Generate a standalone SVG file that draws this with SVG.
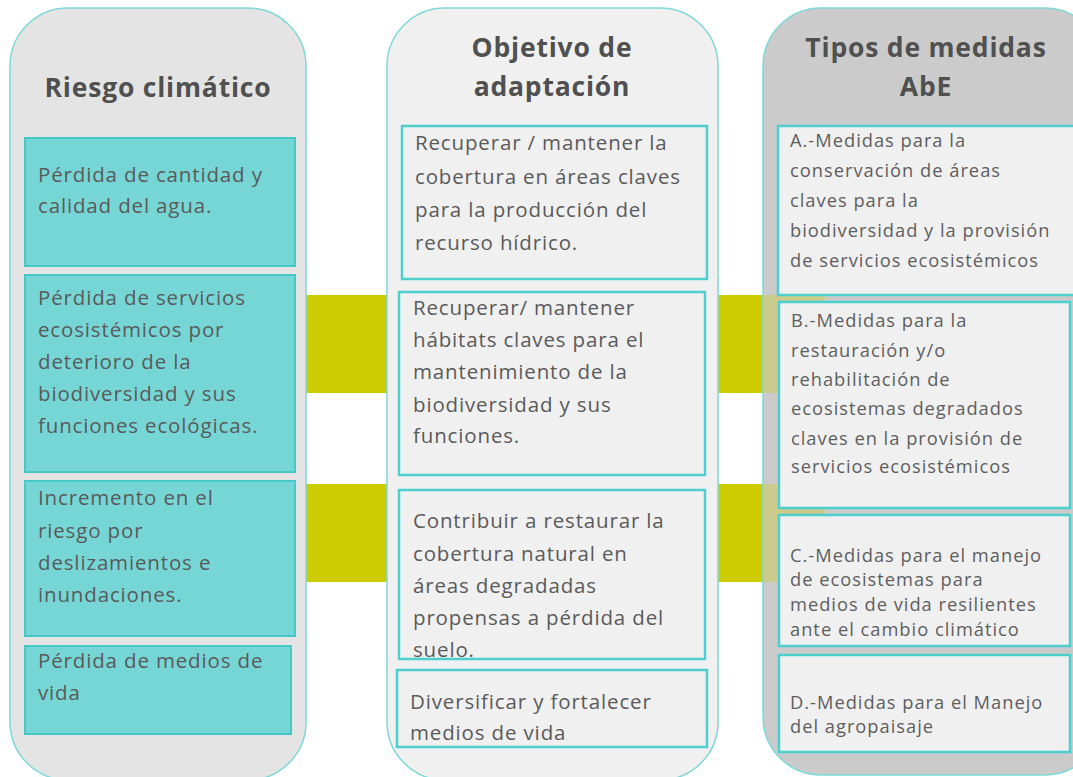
<svg xmlns="http://www.w3.org/2000/svg" width="1073" height="777" viewBox="0 0 1073 777">
<style>
.col{stroke:#7ed8d8;stroke-width:1.5}
.c1{fill:#e4e4e4}.c2{fill:#f0f0f0}.c3{fill:#cbcbcb}
.tbox{fill:#76d6d5;stroke:#45c9c8;stroke-width:2}
.gbox{fill:#f0f0f0;stroke:#4dcfce;stroke-width:2.5}
.band{fill:#cccc00}
.title{font-family:"Open Sans","Liberation Sans",sans-serif;font-weight:bold;font-size:26.5px;letter-spacing:0.8px;fill:#505050;text-anchor:middle}
.t{font-family:"Open Sans","Liberation Sans",sans-serif;font-size:20.5px;letter-spacing:0.85px;fill:#5a5a5a}
.s{font-family:"Open Sans","Liberation Sans",sans-serif;font-size:18.3px;letter-spacing:1px;fill:#5e5e5e}
</style>
<rect width="1073" height="777" fill="#ffffff"/>
<g id="connectors">
<rect class="band" x="300" y="295" width="92" height="98"/>
<rect class="band" x="300" y="484" width="92" height="98"/>
<rect class="band" x="712" y="295" width="56" height="98"/>
<rect class="band" x="712" y="484" width="56" height="98"/>
</g>
<g id="col-riesgo">
<rect class="col c1" x="10" y="8" width="296" height="772" rx="58"/>
<text class="title" x="158" y="97">Riesgo climático</text>
</g>
<g id="col-objetivo">
<rect class="col c2" x="387" y="8" width="331" height="772" rx="58"/>
<text class="title" x="552" y="57">Objetivo de</text>
<text class="title" x="552" y="96">adaptación</text>
</g>
<g id="col-tipos">
<rect class="col c3" x="763" y="8" width="340" height="767" rx="58"/>
<rect x="764" y="295" width="61" height="98" fill="#cccc00" opacity="0.3"/>
<rect x="764" y="484" width="61" height="98" fill="#cccc00" opacity="0.3"/>
<text class="title" x="926" y="57">Tipos de medidas</text>
<text class="title" x="926" y="96">AbE</text>
</g>
<g id="r1">
<rect class="tbox" x="25" y="138" width="270" height="128"/>
<text class="t" x="38" y="182">Pérdida de cantidad y</text>
<text class="t" x="38" y="213">calidad del agua.</text>
</g>
<g id="r2">
<rect class="tbox" x="25" y="275" width="270" height="197"/>
<text class="t" x="38" y="305">Pérdida de servicios</text>
<text class="t" x="38" y="337">ecosistémicos por</text>
<text class="t" x="38" y="369">deterioro de la</text>
<text class="t" x="38" y="401">biodiversidad y sus</text>
<text class="t" x="38" y="433">funciones ecológicas.</text>
</g>
<g id="r3">
<rect class="tbox" x="25" y="481" width="270" height="155"/>
<text class="t" x="38" y="505">Incremento en el</text>
<text class="t" x="38" y="538">riesgo por</text>
<text class="t" x="38" y="570">deslizamientos e</text>
<text class="t" x="38" y="602">inundaciones.</text>
</g>
<g id="r4">
<rect class="tbox" x="25" y="646" width="266" height="88"/>
<text class="t" x="38" y="668">Pérdida de medios de</text>
<text class="t" x="38" y="700">vida</text>
</g>
<g id="o1">
<rect class="gbox" x="402" y="126" width="305" height="153"/>
<text class="t" x="415" y="150">Recuperar / mantener la</text>
<text class="t" x="415" y="184">cobertura en áreas claves</text>
<text class="t" x="415" y="217">para la producción del</text>
<text class="t" x="415" y="250">recurso hídrico.</text>
</g>
<g id="o2">
<rect class="gbox" x="399" y="292" width="306" height="183"/>
<text class="t" x="413" y="315">Recuperar/ mantener</text>
<text class="t" x="413" y="347">hábitats claves para el</text>
<text class="t" x="413" y="379">mantenimiento de la</text>
<text class="t" x="413" y="412">biodiversidad y sus</text>
<text class="t" x="413" y="443">funciones.</text>
</g>
<g id="o3">
<rect class="gbox" x="399" y="490" width="306" height="169"/>
<text class="t" x="413" y="528">Contribuir a restaurar la</text>
<text class="t" x="413" y="561">cobertura natural en</text>
<text class="t" x="413" y="593">áreas degradadas</text>
<text class="t" x="413" y="625">propensas a pérdida del</text>
<text class="t" x="413" y="657">suelo.</text>
</g>
<g id="o4">
<rect class="gbox" x="397" y="670" width="310" height="77"/>
<text class="t" x="410" y="709">Diversificar y fortalecer</text>
<text class="t" x="410" y="740">medios de vida</text>
</g>
<g id="m1">
<rect class="gbox" x="778" y="126" width="300" height="169"/>
<text class="s" x="790" y="147">A.-Medidas para la</text>
<text class="s" x="790" y="177">conservación de áreas</text>
<text class="s" x="790" y="207">claves para la</text>
<text class="s" x="790" y="237">biodiversidad y la provisión</text>
<text class="s" x="790" y="267">de servicios ecosistémicos</text>
</g>
<g id="m2">
<rect class="gbox" x="779" y="302" width="291" height="206"/>
<text class="s" x="791" y="327">B.-Medidas para la</text>
<text class="s" x="791" y="357">restauración y/o</text>
<text class="s" x="791" y="386">rehabilitación de</text>
<text class="s" x="791" y="415">ecosistemas degradados</text>
<text class="s" x="791" y="445">claves en la provisión de</text>
<text class="s" x="791" y="473">servicios ecosistémicos</text>
</g>
<g id="m3">
<rect class="gbox" x="779" y="515" width="291" height="131"/>
<text class="s" x="790" y="562">C.-Medidas para el manejo</text>
<text class="s" x="790" y="586">de ecosistemas para</text>
<text class="s" x="790" y="611">medios de vida resilientes</text>
<text class="s" x="790" y="636">ante el cambio climático</text>
</g>
<g id="m4">
<rect class="gbox" x="779" y="655" width="291" height="97"/>
<text class="s" x="790" y="709">D.-Medidas para el Manejo</text>
<text class="s" x="790" y="733">del agropaisaje</text>
</g>
</svg>
